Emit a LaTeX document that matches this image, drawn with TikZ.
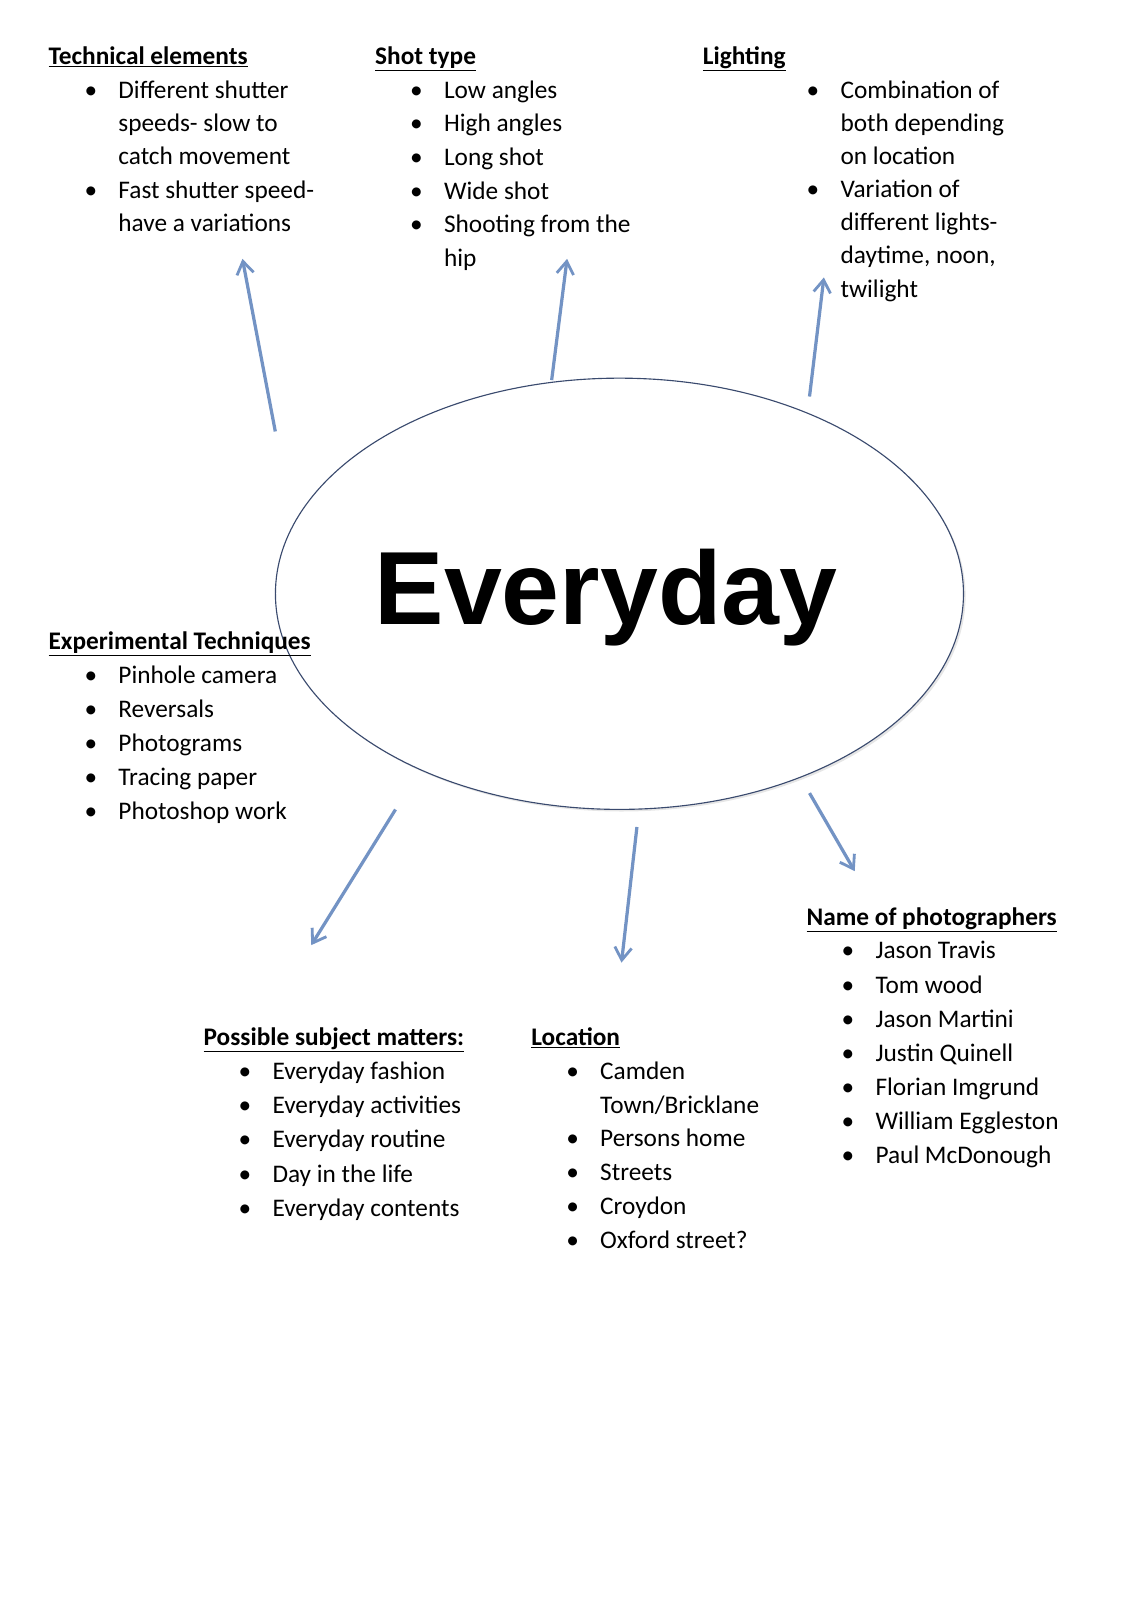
\documentclass[tikz,border=0pt]{standalone}
\usepackage{fontspec}
\setmainfont{Carlito}
\newfontfamily\titlefont{Liberation Sans}
\usetikzlibrary{arrows.meta,shadows,shapes.geometric}
\definecolor{arr}{HTML}{7393C4}
\definecolor{ell}{HTML}{3A4A6E}
\tikzset{
 head/.style={anchor=west,font=\fontsize{18}{21}\selectfont\bfseries,inner sep=0pt,text height=12.5pt,text depth=4.5pt},
 itm/.style={anchor=west,font=\fontsize{18}{21}\selectfont,inner sep=0pt,text height=12.5pt,text depth=4.5pt},
 conn/.style={draw=arr,line width=2.3pt,-{Straight Barb[length=9pt,width=12pt,line width=2pt]}}
}
\begin{document}
\begin{tikzpicture}[x=0.02568cm,y=-0.02568cm]
\useasboundingbox (0,0) rectangle (1100,1557.5);
\node[draw=ell,line width=0.8pt,ellipse,inner sep=0pt,minimum width=17.2cm,minimum height=10.78cm,fill=white,drop shadow={shadow xshift=1.5pt,shadow yshift=-1.5pt,opacity=0.2}] (e) at (603,578) {};
\node[font=\titlefont\fontsize{74}{80}\selectfont\bfseries] (title) at (590,582) {Everyday};

% Technical elements
\node[head] (th) at (47,57) {\underline{Technical elements}};
\foreach \b/\t [count=\i] in {1/Different shutter,0/speeds- slow to,0/catch movement,1/Fast shutter speed-,0/have a variations}{
 \node[itm] (t\i) at (115,90+32.5*\i-32.5) {\t};
 \ifnum\b=1 \node[itm] (tb\i) at (82,90+32.5*\i-32.5) {•};\fi}
% Shot type
\node[head] (sh) at (365,57) {\underline{Shot type}};
\foreach \b/\t [count=\i] in {1/Low angles,1/High angles,1/Long shot,1/Wide shot,1/Shooting from the,0/hip}{
 \node[itm] (s\i) at (432,90+32.8*\i-32.8) {\t};
 \ifnum\b=1 \node[itm] (sb\i) at (399,90+32.8*\i-32.8) {•};\fi}
% Lighting
\node[head] (lh) at (684,57) {\underline{Lighting}};
\foreach \b/\t [count=\i] in {1/Combination of,0/both depending,0/on location,1/Variation of,0/different lights-,0/{daytime, noon,},0/twilight}{
 \node[itm] (l\i) at (818,90+32.3*\i-32.3) {\t};
 \ifnum\b=1 \node[itm] (lb\i) at (785,90+32.3*\i-32.3) {•};\fi}
% Experimental
\node[head] (xh) at (47,627) {\underline{Experimental Techniques}};
\foreach \t [count=\i] in {Pinhole camera,Reversals,Photograms,Tracing paper,Photoshop work}{
 \node[itm] (x\i) at (115,660+33*\i-33) {\t};
 \node[itm] (xb\i) at (82,660+33*\i-33) {•};}
% Possible subject matters
\node[head] (ph) at (198,1012) {\underline{Possible subject matters:}};
\foreach \t [count=\i] in {Everyday fashion,Everyday activities,Everyday routine,Day in the life,Everyday contents}{
 \node[itm] (p\i) at (265,1045+33.5*\i-33.5) {\t};
 \node[itm] (pb\i) at (232,1045+33.5*\i-33.5) {•};}
% Location
\node[head] (oh) at (517,1012) {\underline{Location}};
\foreach \b/\t [count=\i] in {1/Camden,0/{Town/Bricklane},1/Persons home,1/Streets,1/Croydon,1/Oxford street?}{
 \node[itm] (o\i) at (584,1045+33*\i-33) {\t};
 \ifnum\b=1 \node[itm] (ob\i) at (551,1045+33*\i-33) {•};\fi}
% Photographers
\node[head] (nh) at (785,895) {\underline{Name of photographers}};
\foreach \t [count=\i] in {Jason Travis,Tom wood,Jason Martini,Justin Quinell,Florian Imgrund,William Eggleston,Paul McDonough}{
 \node[itm] (n\i) at (852,928+33.2*\i-33.2) {\t};
 \node[itm] (nb\i) at (819,928+33.2*\i-33.2) {•};}

% arrows
\coordinate (a1s) at (268,420); \coordinate (a1e) at (236,252);
\coordinate (a2s) at (537,370); \coordinate (a2e) at (552,252);
\coordinate (a3s) at (788,386); \coordinate (a3e) at (802,270);
\coordinate (a4s) at (385,788); \coordinate (a4e) at (303,920);
\coordinate (a5s) at (620,805); \coordinate (a5e) at (605,937);
\coordinate (a6s) at (788,772); \coordinate (a6e) at (832,848);
\foreach \k in {1,...,6}{\draw[conn] (a\k s) -- (a\k e);}
\end{tikzpicture}
\end{document}
